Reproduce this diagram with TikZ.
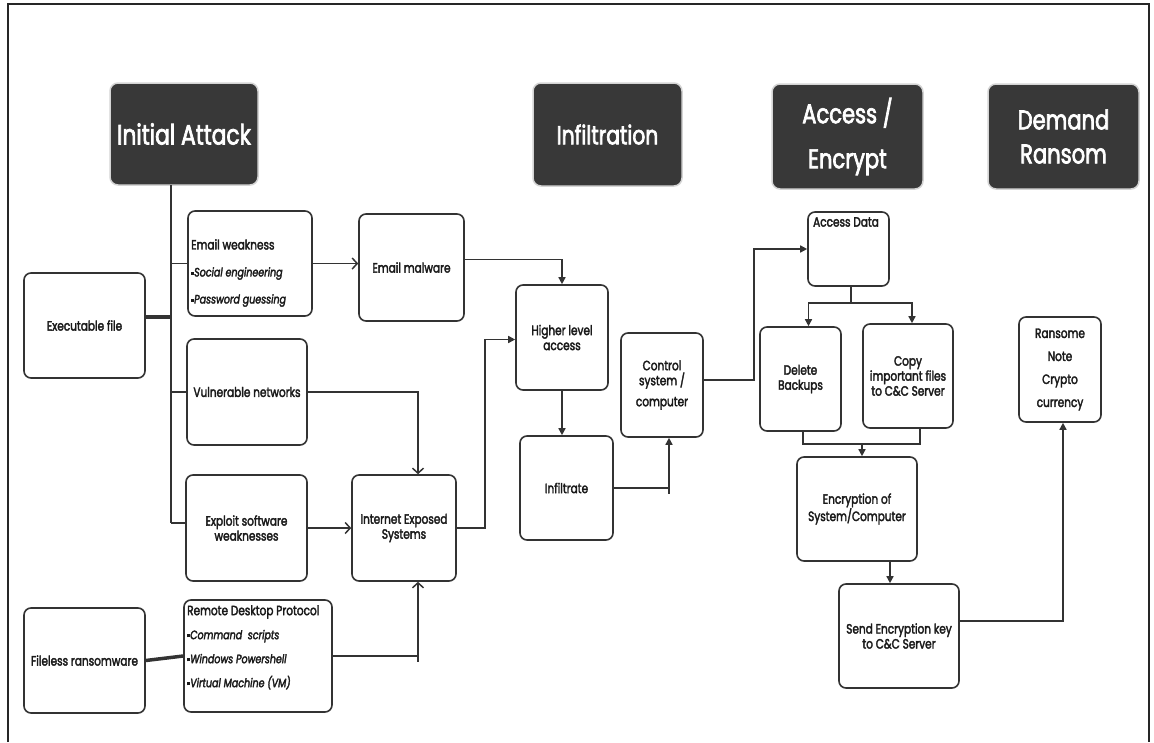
\documentclass[tikz,border=0pt]{standalone}
\usepackage{fontspec}
\setmainfont{Poppins}[FakeStretch=0.78, FakeBold=2.5]
\usetikzlibrary{arrows.meta}
\definecolor{lc}{HTML}{333333}
\definecolor{hd}{HTML}{383838}
\definecolor{hdb}{HTML}{D4D4D4}
\definecolor{tc}{HTML}{1A1A1A}
\newcommand\bsq{\raisebox{1.8pt}{\rule{3pt}{3pt}}}
\newcommand\itl[1]{{\fontsize{12.2}{14}\selectfont\itshape #1}}
\tikzset{
  box/.style={draw=lc, line width=1.6pt, rounded corners=7pt, fill=white, inner sep=0pt, align=center, text=tc, font=\fontsize{13.5}{15}\selectfont},
  txt/.style={inner sep=1pt, text=tc, font=\fontsize{13.5}{15}\selectfont},
  head/.style={fill=hd, draw=hdb, line width=1.5pt, rounded corners=8pt, text=white, align=center, inner sep=0pt},
  conn/.style={draw=lc, line width=1.5pt},
  oarr/.style={conn, -{Straight Barb[length=5pt,width=11pt]}},
  farr/.style={conn, -{Triangle[length=7pt,width=7pt]}},
}
\begin{document}
\begin{tikzpicture}[x=1pt,y=-1pt]
\useasboundingbox (0,0) rectangle (1154,742);
% frame
\draw[line width=2.5pt, draw=black!85] (8,742) -- (8,4) -- (1149,4) -- (1149,742);

% headers
\node[head, minimum width=148pt, minimum height=102pt, font=\fontsize{28}{32}\selectfont] (hIA) at (184,134) {Initial Attack};
\node[head, minimum width=149pt, minimum height=103pt, font=\fontsize{26}{30}\selectfont] (hIN) at (607.5,134.5) {Infiltration};
\node[head, minimum width=151pt, minimum height=105pt, font=\fontsize{27}{45}\selectfont] (hAE) at (847.5,136.5) {Access /\\Encrypt};
\node[head, minimum width=151pt, minimum height=105pt, font=\fontsize{27}{34}\selectfont] (hDR) at (1063.5,136.5) {Demand\\Ransom};

% boxes
\node[box, minimum width=124pt, minimum height=105pt] (ew) at (250,263.5) {};
\node[txt, anchor=west, align=left] (ewt) at (190,273) {Email weakness\\[12pt]\bsq\itl{Social engineering}\\[12pt]\bsq\itl{Password guessing}};
\node[box, minimum width=121pt, minimum height=105pt] (exe) at (84.5,325.5) {Executable file};
\node[box, minimum width=105pt, minimum height=107pt] (em) at (411.5,267.5) {Email malware};
\node[box, minimum width=120pt, minimum height=106pt] (vn) at (247,392) {Vulnerable networks};
\node[box, minimum width=121pt, minimum height=106pt] (es) at (246.5,528) {Exploit software\\weaknesses};
\node[box, minimum width=121pt, minimum height=105pt] (fr) at (84.5,660.5) {Fileless ransomware};
\node[box, minimum width=148pt, minimum height=112pt] (rdp) at (258,656) {};
\node[txt, anchor=north west, align=left] (rdpt) at (186,604) {Remote Desktop Protocol\\[9pt]\bsq\itl{Command\ \ scripts}\\[9pt]\bsq\itl{Windows Powershell}\\[9pt]\bsq\itl{Virtual Machine (VM)}};
\node[box, minimum width=104pt, minimum height=106pt] (ies) at (404,528) {Internet Exposed\\Systems};
\node[box, minimum width=92pt, minimum height=105pt] (hla) at (562,337.5) {Higher level\\access};
\node[box, minimum width=93pt, minimum height=104pt] (inf) at (566.5,488) {Infiltrate};
\node[box, minimum width=82pt, minimum height=104pt] (ctl) at (662,385) {Control\\system /\\[6pt]computer};
\node[box, minimum width=81pt, minimum height=74pt] (ad) at (848.5,249) {};
\node[txt, anchor=north] (adt) at (846,216) {Access Data};
\node[box, minimum width=81pt, minimum height=104pt] (db) at (800.5,379) {Delete\\Backups};
\node[box, minimum width=90pt, minimum height=104pt] (cp) at (908,376) {Copy\\important files\\to C\&C Server};
\node[box, minimum width=120pt, minimum height=104pt] (enc) at (857,509) {Encryption of\\System/Computer};
\node[box, minimum width=120pt, minimum height=104pt] (send) at (899,636) {Send Encryption key\\to C\&C Server};
\node[box, minimum width=82pt, minimum height=105pt, font=\fontsize{13.5}{23}\selectfont] (rn) at (1060,369.5) {Ransome\\Note\\Crypto\\currency};

% helper coordinates
\coordinate (t0) at (171,185);
\coordinate (t1) at (171,523);
\coordinate (y317) at (0,317);
\coordinate (x485) at (485,0);
\coordinate (x754) at (754,0);
\coordinate (sp) at (851,303);
\coordinate (mg) at (0,444);

% initial attack trunk
\draw[conn] (t0) -- (t1);
\draw[conn] (ew.west) -- (ew.west -| t0);
\draw[conn] (vn.west) -- (vn.west -| t0);
\draw[conn] (t1) -- (t1 -| es.west);
\draw[draw=lc, line width=3.5pt] (exe.east |- y317) -- (t0 |- y317);
\draw[draw=lc, line width=3.5pt] (fr.east) -- (rdp.west);

% left flows
\draw[oarr] (ew.east) -- (ew.east -| em.west);
\draw[oarr] (vn.east) -| ([xshift=14pt]ies.north);
\draw[oarr] (es.east) -- (ies.west);
\draw[oarr] (rdp.east) -| ([xshift=14pt]ies.south);
\draw[conn] ([xshift=14pt]ies.south |- rdp.east) -- ++(0,6);

% infiltration
\draw[farr] ([yshift=8pt]em.east) -| (hla.north);
\draw[farr] (ies.east) -- (ies.east -| x485) |- ([yshift=-2pt]hla.west);
\draw[farr] (hla.south) -- (hla.south |- inf.north);
\draw[farr] (inf.east) -| ([xshift=7pt]ctl.south);
\draw[conn] ([xshift=7pt]ctl.south |- inf.east) -- ++(0,6);

% access / encrypt
\draw[farr] ([yshift=5pt]ctl.east) -- ([yshift=5pt]ctl.east -| x754) |- (ad.west);
\draw[conn] ([xshift=2.5pt]ad.south) -- (sp);
\draw[farr] (sp) -| ([xshift=8pt]db.north);
\draw[farr] (sp) -| ([xshift=4pt]cp.north);
\draw[conn] ([xshift=2.5pt]db.south) -- ([xshift=2.5pt]db.south |- mg) -| ([xshift=12pt]cp.south);
\draw[farr] ([xshift=5pt]enc.north |- mg) -- ([xshift=5pt]enc.north);
\draw[farr] ([xshift=33pt]enc.south) -- ([xshift=33pt]enc.south |- send.north);

% demand ransom
\draw[farr] ([yshift=15pt]send.east) -| ([xshift=3pt]rn.south);
\end{tikzpicture}
\end{document}
